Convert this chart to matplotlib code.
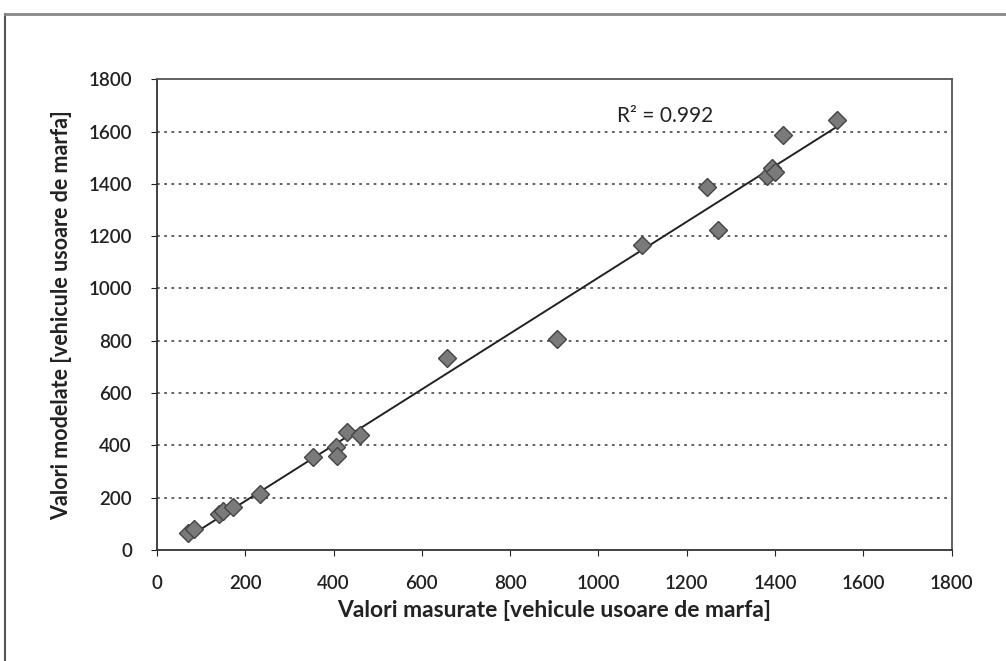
import numpy as np
import matplotlib
matplotlib.use("Agg")
import matplotlib.pyplot as plt
from matplotlib.lines import Line2D

plt.rcParams['font.family'] = ['Lato', 'DejaVu Sans']

measured = [70, 85, 140, 150, 172, 233, 353, 405, 408, 430, 460, 656, 906,
            1098, 1245, 1270, 1381, 1392, 1399, 1418, 1540]
modeled = [65, 82, 138, 150, 165, 215, 355, 395, 358, 451, 439, 733, 808,
           1165, 1387, 1222, 1430, 1460, 1444, 1586, 1643]
r2_text = "R² = 0.992"
x_label = "Valori masurate [vehicule usoare de marfa]"
y_label = "Valori modelate [vehicule usoare de marfa]"
ticks = list(range(0, 1801, 200))

fig = plt.figure(figsize=(10.06, 6.61), dpi=100)
ax = fig.add_axes([0.156, 0.168, 0.790, 0.712])

# outer chart frame
fig.add_artist(Line2D([0.005, 0.005], [0.0, 0.979], transform=fig.transFigure,
                      color='#555555', lw=1.5))
fig.add_artist(Line2D([0.005, 1.0], [0.979, 0.979], transform=fig.transFigure,
                      color='#888888', lw=2))

ax.set_xlim(0, 1800)
ax.set_ylim(0, 1800)
ax.set_xticks(ticks)
ax.set_yticks(ticks)
ax.set_xticklabels([str(t) for t in ticks], fontweight='semibold')
ax.set_yticklabels([str(t) for t in ticks], fontweight='semibold')
ax.tick_params(axis='both', labelsize=13.5, direction='out', length=4,
               colors='#222222')
ax.tick_params(axis='x', pad=14)
ax.tick_params(axis='y', pad=14)

for y in ticks[1:-1]:
    ax.axhline(y, color='#555555', lw=1.3, ls=(0, (1.5, 2.5)), zorder=1)

for s in ['left', 'bottom']:
    ax.spines[s].set_color('#333333')
    ax.spines[s].set_linewidth(1.3)
for s in ['top', 'right']:
    ax.spines[s].set_color('#555555')
    ax.spines[s].set_linewidth(1.3)

mx = np.array(measured)
my = np.array(modeled)
slope, intercept = np.polyfit(mx, my, 1)
xs = np.array([mx.min(), mx.max()])
ax.plot(xs, slope * xs + intercept, color='#222222', lw=1.4, zorder=2)

ax.plot(mx, my, ls='none', marker='D', markersize=9.5,
        markerfacecolor='#7a7a7a', markeredgecolor='#444444',
        markeredgewidth=1.0, zorder=3)

ax.text(1150, 1660, r2_text, fontsize=15, color='#222222', ha='center', va='center')

ax.set_xlabel(x_label, fontsize=16.5, fontweight='bold', color='#222222', labelpad=6)
ax.set_ylabel(y_label, fontsize=15.5, fontweight='bold', color='#222222', labelpad=12)

fig.savefig('out.png', dpi=100, facecolor='white')
